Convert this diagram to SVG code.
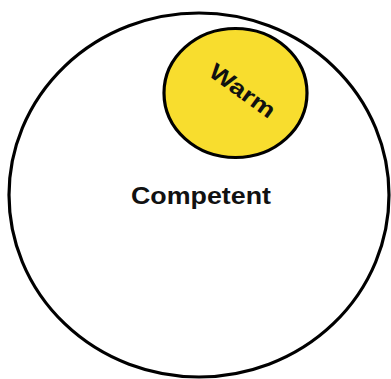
<svg xmlns="http://www.w3.org/2000/svg" width="391" height="379" viewBox="0 0 391 379">
<style>
.lbl{font-family:"Liberation Sans",Arial,sans-serif;font-weight:bold;fill:#111;}
</style>
<rect width="391" height="379" fill="#fff"/>
<g id="competent">
<ellipse cx="199" cy="195" rx="190" ry="182" fill="#fff" stroke="#000" stroke-width="3.2"/>
<text class="lbl" x="201" y="204" font-size="23.5" text-anchor="middle" textLength="140" lengthAdjust="spacingAndGlyphs">Competent</text>
</g>
<g id="warm">
<ellipse cx="235.5" cy="93" rx="71.5" ry="64.5" fill="#f8dd2e" stroke="#000" stroke-width="3.2"/>
<text class="lbl" x="0" y="0" font-size="22.5" text-anchor="middle" textLength="76" lengthAdjust="spacingAndGlyphs" transform="translate(238,97) rotate(36)">Warm</text>
</g>
<g id="connectors"/>
</svg>
